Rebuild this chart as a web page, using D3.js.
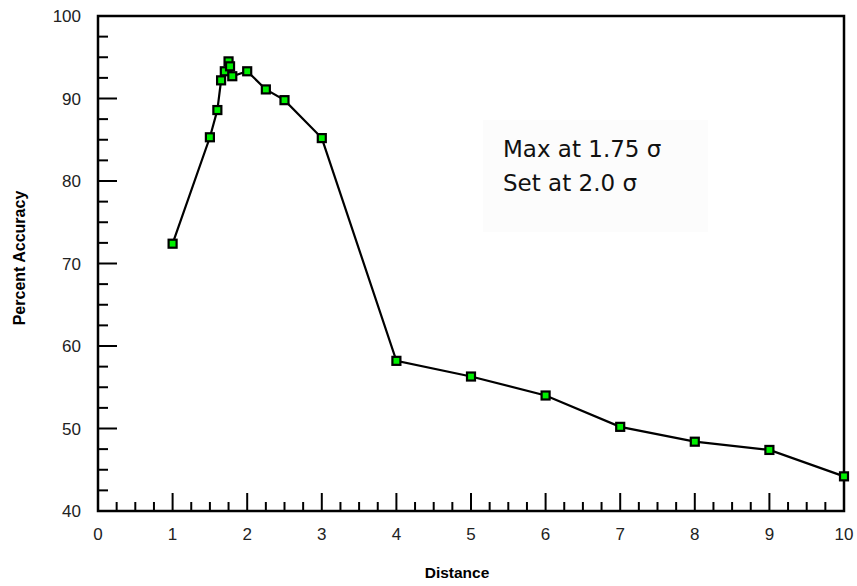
<!DOCTYPE html>
<html>
<head>
<meta charset="utf-8">
<script src="https://d3js.org/d3.v7.min.js"></script>
<style>
  html, body { margin: 0; padding: 0; background: #ffffff; }
  svg { display: block; }
</style>
</head>
<body>
<svg id="chart" width="857" height="586"></svg>
<script>
// Accuracy measured against the distance threshold (in sigma)
const distance = [1, 1.5, 1.6, 1.65, 1.7, 1.75, 1.77, 1.8, 2, 2.25, 2.5, 3, 4, 5, 6, 7, 8, 9, 10];
const accuracy = [72.4, 85.3, 88.6, 92.2, 93.3, 94.5, 93.9, 92.7, 93.3, 91.1, 89.8, 85.2, 58.2, 56.3, 54.0, 50.2, 48.4, 47.4, 44.2];

const xTicks = [0, 1, 2, 3, 4, 5, 6, 7, 8, 9, 10];
const yTicks = [40, 50, 60, 70, 80, 90, 100];
const noteLines = ["Max at 1.75 \u03c3", "Set at 2.0 \u03c3"];

const svg = d3.select("#chart");
const x = d3.scaleLinear().domain([0, 10]).range([98, 844]);
const y = d3.scaleLinear().domain([40, 100]).range([511, 16]);

// annotation panel
svg.append("rect")
  .attr("x", 483).attr("y", 120).attr("width", 225).attr("height", 112)
  .attr("fill", "#fcfcfc");
svg.append("g").selectAll("text").data(noteLines).join("text")
  .attr("x", 503)
  .attr("y", (d, i) => 157 + i * 34)
  .attr("font-family", "'DejaVu Sans', Verdana, sans-serif")
  .attr("font-size", 23)
  .attr("fill", "#111")
  .text(d => d);

// minor ticks
const xMinor = d3.range(0, 10.001, 0.25).filter(v => Math.abs(v - Math.round(v)) > 1e-6);
const yMinor = d3.range(40, 100.001, 2.5).filter(v => v % 10 !== 0);

const axisG = svg.append("g").attr("stroke", "#000").attr("stroke-width", 2);
axisG.selectAll(".xmaj").data(xTicks).join("line")
  .attr("x1", d => x(d)).attr("x2", d => x(d))
  .attr("y1", y(40)).attr("y2", y(40) - 18);
axisG.selectAll(".xmin").data(xMinor).join("line")
  .attr("x1", d => x(d)).attr("x2", d => x(d))
  .attr("y1", y(40)).attr("y2", y(40) - 9);
axisG.selectAll(".ymaj").data(yTicks).join("line")
  .attr("x1", x(0)).attr("x2", x(0) + 19)
  .attr("y1", d => y(d)).attr("y2", d => y(d));
axisG.selectAll(".ymin").data(yMinor).join("line")
  .attr("x1", x(0)).attr("x2", x(0) + 10)
  .attr("y1", d => y(d)).attr("y2", d => y(d));

// frame
svg.append("rect")
  .attr("x", x(0)).attr("y", y(100))
  .attr("width", x(10) - x(0)).attr("height", y(40) - y(100))
  .attr("fill", "none").attr("stroke", "#000").attr("stroke-width", 2.5);

// tick labels
svg.append("g").selectAll("text").data(xTicks).join("text")
  .attr("x", d => x(d)).attr("y", 540)
  .attr("text-anchor", "middle")
  .attr("font-family", "'Liberation Sans', Arial, sans-serif")
  .attr("font-size", 17)
  .attr("fill", "#222")
  .text(d => d);
svg.append("g").selectAll("text").data(yTicks).join("text")
  .attr("x", 81).attr("y", d => y(d) + 6)
  .attr("text-anchor", "end")
  .attr("font-family", "'Liberation Sans', Arial, sans-serif")
  .attr("font-size", 17)
  .attr("fill", "#222")
  .text(d => d);

// axis titles
svg.append("text")
  .attr("x", 457).attr("y", 578)
  .attr("text-anchor", "middle")
  .attr("font-family", "'Liberation Sans', Arial, sans-serif")
  .attr("font-weight", "bold").attr("font-size", 15.5)
  .text("Distance");
svg.append("text")
  .attr("transform", "translate(25,258) rotate(-90)")
  .attr("text-anchor", "middle")
  .attr("font-family", "'Liberation Sans', Arial, sans-serif")
  .attr("font-weight", "bold").attr("font-size", 16)
  .text("Percent Accuracy");

// series line
const pts = distance.map((d, i) => [d, accuracy[i]]);
svg.append("path")
  .datum(pts)
  .attr("fill", "none").attr("stroke", "#000").attr("stroke-width", 2.2)
  .attr("d", d3.line().x(d => x(d[0])).y(d => y(d[1])));

// square markers
svg.append("g").selectAll("rect").data(pts).join("rect")
  .attr("x", d => x(d[0]) - 4).attr("y", d => y(d[1]) - 4)
  .attr("width", 8).attr("height", 8)
  .attr("fill", "#00f000").attr("stroke", "#000").attr("stroke-width", 2.2);
</script>
</body>
</html>
